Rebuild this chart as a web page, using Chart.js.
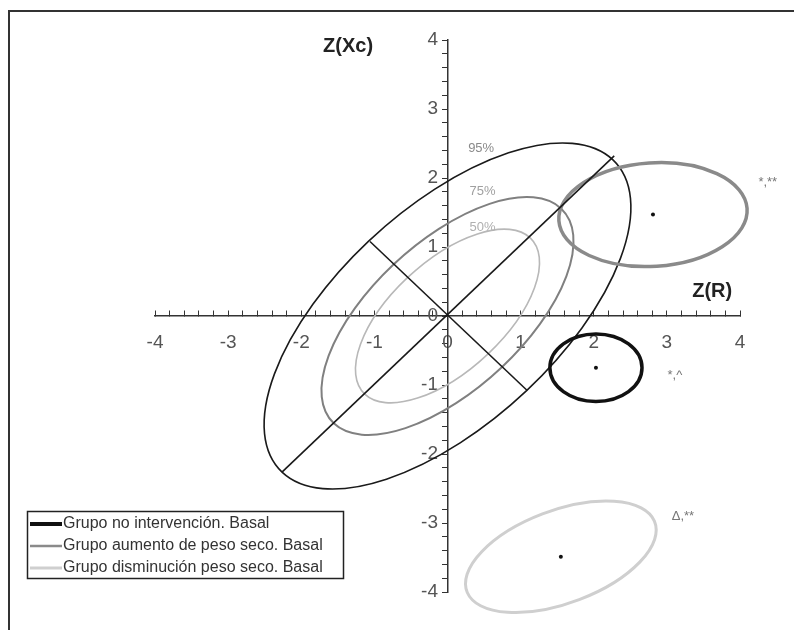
<!doctype html>
<html lang="es">
<head>
<meta charset="utf-8">
<title>BIVA - Z(R) / Z(Xc)</title>
<style>
  * { margin: 0; padding: 0; }
  body { background: #fff; }
  .chartBox { position: relative; width: 794px; height: 630px; }
</style>
</head>
<body>
<div class="chartBox"><canvas id="myChart"></canvas></div>
<script src="https://cdn.jsdelivr.net/npm/chart.js/dist/chart.umd.min.js"></script>
<script>
// axis range / ticks
const axisMin = -4;
const axisMax = 4;
const minorStep = 0.2;

// tolerance ellipses of the reference population (centered at 0, along the R = Xc diagonal)
const tolLabels = ['95%', '75%', '50%'];
const tolSemiMajor = [3.2, 2.2, 1.6];
const tolSemiMinor = [1.53, 1.05, 0.78];
const tolLabelX = [0.46, 0.48, 0.48];
const tolLabelY = [2.43, 1.8, 1.29];

// axes of the 95% ellipse
const majorAxisX = [-2.26, 2.28];
const majorAxisY = [-2.26, 2.32];
const minorAxisX = [-1.06, 1.09];
const minorAxisY = [1.08, -1.08];

// groups (mean vector + confidence ellipse)
const groupNames = [
  'Grupo no intervención. Basal',
  'Grupo aumento de peso seco. Basal',
  'Grupo disminución peso seco. Basal'
];
const groupX = [2.03, 2.81, 1.55];
const groupY = [-0.75, 1.47, -3.49];
const groupRadiusX = [0.63, 1.29, 1.38];
const groupRadiusY = [0.49, 0.75, 0.67];
const groupTilt = [0, 4, 22];
const groupMarks = ['*,^', '*,**', 'Δ,**'];
const groupMarkX = [3.11, 4.38, 3.22];
const groupMarkY = [-0.86, 1.93, -2.91];

const groupColors = ['#111111', '#8a8a8a', '#cfcfcf'];
const tolColors = ['#1a1a1a', '#808080', '#b8b8b8'];
const font = 'Liberation Sans, Arial, sans-serif';

const isWhole = v => Math.abs(v - Math.round(v)) < 1e-6;

// ellipses, labels, legend
const bivaPlugin = {
  id: 'biva',
  beforeDatasetsDraw(chart) {
    const { ctx, scales: { x, y } } = chart;
    const x0 = x.getPixelForValue(0), kx = x.getPixelForValue(1) - x0;
    const y0 = y.getPixelForValue(0), ky = y.getPixelForValue(1) - y0;

    const ellipse = (cx, cy, a, b, deg, color, width) => {
      ctx.save();
      ctx.transform(kx, 0, 0, ky, x0, y0);
      ctx.beginPath();
      ctx.ellipse(cx, cy, a, b, deg * Math.PI / 180, 0, 2 * Math.PI);
      ctx.restore();
      ctx.save();
      ctx.strokeStyle = color;
      ctx.lineWidth = width;
      ctx.stroke();
      ctx.restore();
    };

    const tolWidths = [1.6, 2, 1.6];
    tolLabels.forEach((t, i) => ellipse(0, 0, tolSemiMajor[i], tolSemiMinor[i], 45, tolColors[i], tolWidths[i]));

    const groupWidths = [3.5, 3.5, 3];
    groupNames.forEach((g, i) => ellipse(groupX[i], groupY[i], groupRadiusX[i], groupRadiusY[i], groupTilt[i], groupColors[i], groupWidths[i]));
  },
  afterDraw(chart) {
    const { ctx, scales: { x, y } } = chart;
    ctx.save();

    // frame (left + top only, the picture is cropped)
    ctx.fillStyle = '#333';
    ctx.fillRect(8, 10, 2, 620);
    ctx.fillRect(8, 10, 786, 2);

    // ellipse percent labels
    ctx.textAlign = 'center';
    ctx.textBaseline = 'middle';
    ctx.font = '13px ' + font;
    const tolText = ['#8a8a8a', '#a0a0a0', '#b0b0b0'];
    tolLabels.forEach((t, i) => {
      ctx.fillStyle = tolText[i];
      ctx.fillText(t, x.getPixelForValue(tolLabelX[i]), y.getPixelForValue(tolLabelY[i]));
    });

    // significance marks
    ctx.font = '13px ' + font;
    ctx.fillStyle = '#777';
    groupMarks.forEach((m, i) => {
      ctx.fillText(m, x.getPixelForValue(groupMarkX[i]), y.getPixelForValue(groupMarkY[i]));
    });

    // axis titles
    ctx.font = 'bold 20px ' + font;
    ctx.fillStyle = '#222';
    ctx.fillText('Z(Xc)', x.getPixelForValue(-1.36), y.getPixelForValue(3.9));
    ctx.fillText('Z(R)', x.getPixelForValue(3.62), y.getPixelForValue(0.35));

    // legend
    ctx.fillStyle = '#fff';
    ctx.fillRect(27, 511, 316, 67);
    ctx.strokeStyle = '#222';
    ctx.lineWidth = 1.5;
    ctx.strokeRect(27.5, 511.5, 316, 67);
    const legendWidths = [4, 2.5, 3];
    ctx.font = '16px ' + font;
    ctx.textAlign = 'left';
    groupNames.forEach((g, i) => {
      const ly = 524 + i * 22;
      ctx.strokeStyle = groupColors[i];
      ctx.lineWidth = legendWidths[i];
      ctx.beginPath();
      ctx.moveTo(30, ly);
      ctx.lineTo(62, ly);
      ctx.stroke();
      ctx.fillStyle = '#333';
      ctx.fillText(g, 63, ly);
    });
    ctx.restore();
  }
};

const data = {
  datasets: [
    {
      label: 'eje mayor',
      data: majorAxisX.map((v, i) => ({ x: v, y: majorAxisY[i] })),
      showLine: true,
      borderColor: '#1a1a1a',
      borderWidth: 1.6,
      pointRadius: 0
    },
    {
      label: 'eje menor',
      data: minorAxisX.map((v, i) => ({ x: v, y: minorAxisY[i] })),
      showLine: true,
      borderColor: '#1a1a1a',
      borderWidth: 1.6,
      pointRadius: 0
    },
    {
      label: 'centros',
      data: groupX.map((v, i) => ({ x: v, y: groupY[i] })),
      pointRadius: 2,
      pointBackgroundColor: '#111',
      pointBorderWidth: 0
    }
  ]
};

const axisTicks = {
  stepSize: minorStep,
  autoSkip: false,
  maxRotation: 0,
  color: '#555',
  font: { family: font, size: 19 }
};

const config = {
  type: 'scatter',
  data,
  options: {
    responsive: false,
    animation: false,
    layout: { padding: { left: 155, right: 54, top: 40, bottom: 38 } },
    plugins: { legend: { display: false }, tooltip: { enabled: false } },
    scales: {
      x: {
        min: axisMin,
        max: axisMax,
        position: { y: 0 },
        // ticks point up from the axis line, labels sit below
        grid: { drawOnChartArea: false, tickLength: -6, color: '#333' },
        border: { color: '#333', width: 1.5 },
        ticks: {
          ...axisTicks,
          padding: 21,
          callback: v => isWhole(v) ? String(Math.round(v)) : ''
        }
      },
      y: {
        min: axisMin,
        max: axisMax,
        position: { x: 0 },
        grid: { drawOnChartArea: false, tickLength: 5, color: '#333' },
        border: { color: '#333', width: 1.5 },
        ticks: {
          ...axisTicks,
          // centered axes ignore padding, keep the labels off the ticks
          callback: v => isWhole(v) ? String(Math.round(v)) + '\u2002' : ''
        }
      }
    }
  },
  plugins: [bivaPlugin]
};

const canvas = document.getElementById('myChart');
canvas.width = 794;
canvas.height = 630;
const myChart = new Chart(canvas, config);
</script>
</body>
</html>
